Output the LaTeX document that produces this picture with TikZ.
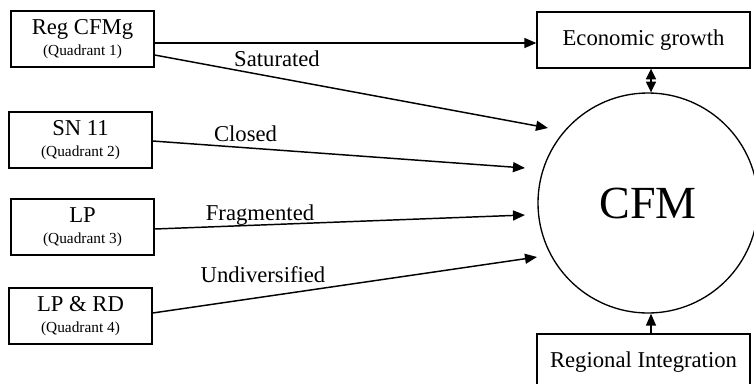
\documentclass[tikz,border=0pt]{standalone}
\usepackage{fontspec}
\setmainfont{Liberation Serif}
\usetikzlibrary{arrows.meta}

\tikzset{
  box/.style={draw, line width=1pt, minimum width=107.25pt, minimum height=42pt, inner sep=0pt, align=center, font=\fontsize{17}{20}\selectfont},
  bigbox/.style={box, minimum width=159.75pt},
  arr/.style={line width=1.1pt, -{Triangle[length=9pt,width=7.5pt]}},
  lbl/.style={anchor=base, inner sep=0pt, font=\fontsize{17}{20}\selectfont}
}
\newcommand{\quadr}[1]{{\fontsize{11.5}{13}\selectfont (Quadrant #1)}}

\begin{document}
\begin{tikzpicture}[x=0.75pt, y=-0.75pt]
  \useasboundingbox (0,0) rectangle (754,383);
  % source boxes
  \node[box] (reg) at (82.5,39) {Reg CFMg\\[-4pt]\quadr{1}};
  \node[box] (sn) at (80.5,140) {SN 11\\[-4pt]\quadr{2}};
  \node[box] (lp) at (82.5,227) {LP\\[-4pt]\quadr{3}};
  \node[box] (lprd) at (80.5,316) {LP \& RD\\[-4pt]\quadr{4}};
  % right side
  \node[bigbox] (econ) at (643.5,40) {Economic growth};
  \node[bigbox] (regint) at (643.5,362) {Regional Integration};
  \node[draw, circle, line width=1pt, minimum size=165pt, inner sep=0pt,
        font=\fontsize{34.5}{40}\selectfont] (cfm) at (648,203) {CFM};
  % free ends of the arrows
  \coordinate (e1) at (548,128);
  \coordinate (e2) at (525,168);
  \coordinate (e3) at (525,215);
  \coordinate (e4) at (537,257);
  % arrows
  \draw[arr] (reg.east |- 0,43) -- (econ.west |- 0,43);
  \draw[arr] (reg.east |- 0,55) -- (e1);
  \draw[arr] (sn.east |- 0,141) -- (e2);
  \draw[arr] (lp.east |- 0,229) -- (e3);
  \draw[arr] (lprd.east |- 0,313) -- (e4);
  \draw[line width=1.1pt, {Triangle[length=8pt,width=7.5pt]}-{Triangle[length=8pt,width=7.5pt]}] (econ.south -| 651,0) -- (cfm.north -| 651,0);
  \draw[arr] (regint.north -| 651,0) -- (cfm.south -| 651,0);
  % labels
  \node[lbl] (sat) at (277,66) {Saturated};
  \node[lbl] (clo) at (245.5,141) {Closed};
  \node[lbl] (fra) at (260,220) {Fragmented};
  \node[lbl] (und) at (263,282) {Undiversified};
\end{tikzpicture}
\end{document}
